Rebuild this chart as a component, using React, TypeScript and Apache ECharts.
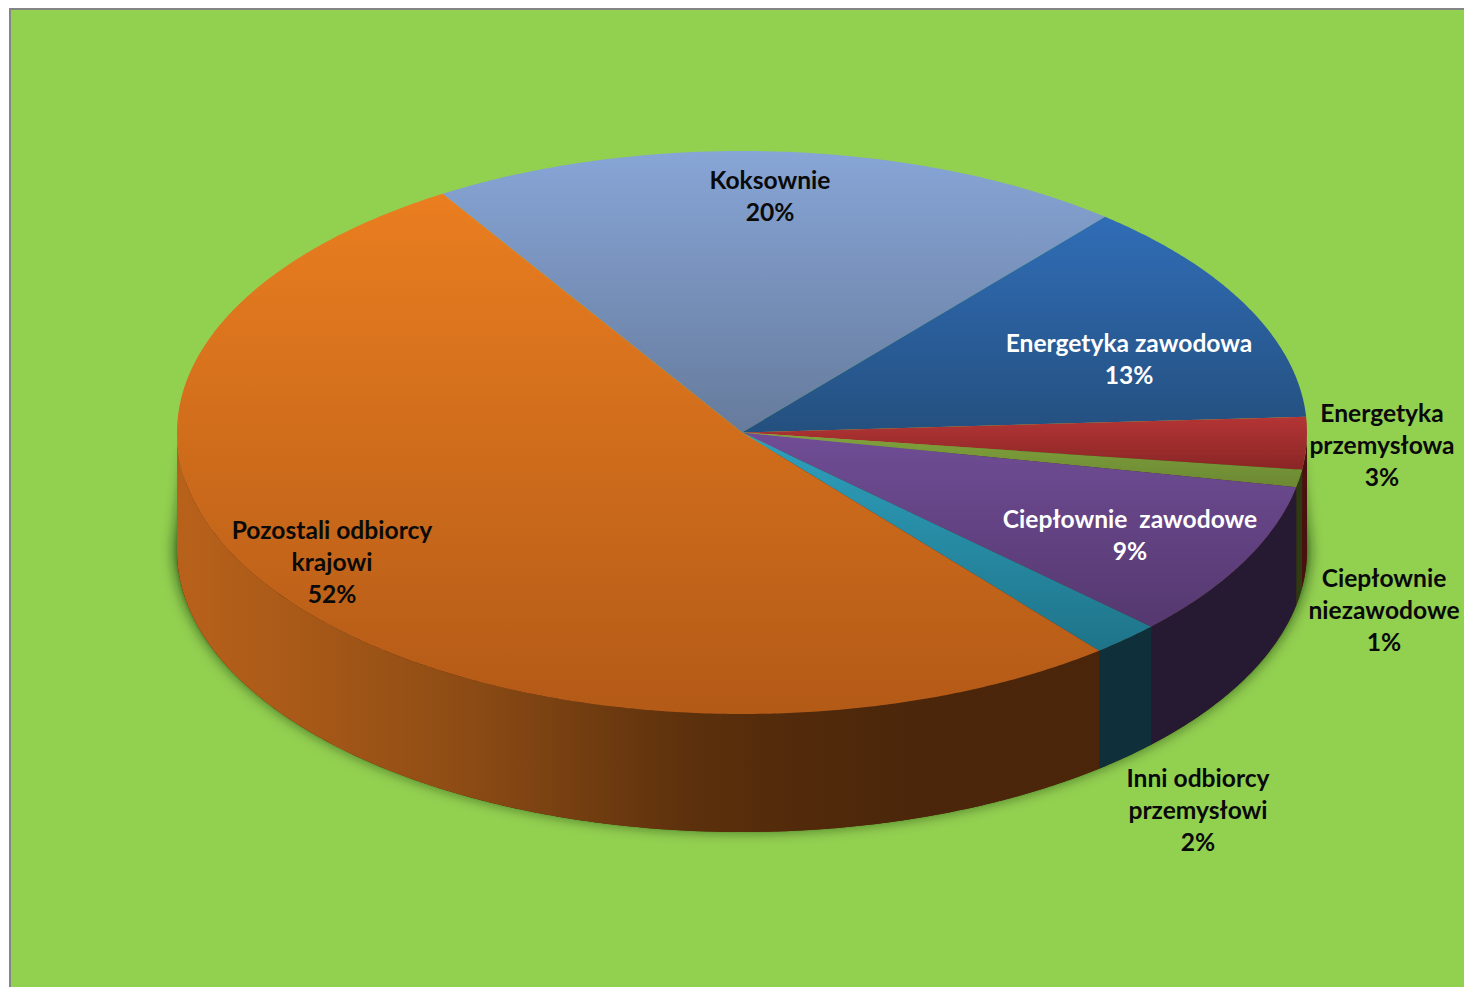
import React, { useEffect, useRef } from "react";
import * as echarts from "echarts";

const categories = [
  "Koksownie",
  "Energetyka zawodowa",
  "Energetyka\nprzemysłowa",
  "Ciepłownie\nniezawodowe",
  "Ciepłownie  zawodowe",
  "Inni odbiorcy\nprzemysłowi",
  "Pozostali odbiorcy\nkrajowi",
];
const shares = [20, 13, 3, 1, 9, 2, 52];

const topColors = [
  ["#87A5D6", "#667B9C"],
  ["#306DB7", "#24507F"],
  ["#B43535", "#8A2525"],
  ["#80A23C", "#6C8833"],
  ["#704D96", "#55386F"],
  ["#2FA0BE", "#1E7489"],
  ["#EA7E20", "#B35A17"],
];
const wallColors = ["#667B9C", "#24507F", "#4A1010", "#2D3A12", "#261A33", "#0F2F3A", "#4A250A"];
const orangeWallStops: [number, string][] = [
  [0, "#B8611B"],
  [0.1, "#AA5A18"],
  [0.26, "#8C4B14"],
  [0.37, "#703C10"],
  [0.46, "#5B300C"],
  [0.55, "#522A0B"],
  [0.66, "#4B260A"],
  [1, "#4A250A"],
];
const labelColors = ["#0A0A0A", "#FFFFFF", "#0A0A0A", "#0A0A0A", "#FFFFFF", "#0A0A0A", "#0A0A0A"];
const labelAnchors = [
  [770, 195],
  [1129, 358],
  [1382, 444],
  [1384, 609],
  [1130, 534],
  [1198, 809],
  [332, 561],
];

const CX = 742;
const CY = 432.5;
const RX = 565;
const RY = 281.5;
const DEPTH = 118;
const START_DEG = -32;

const pt = (deg: number, dy = 0): number[] => {
  const a = (deg * Math.PI) / 180;
  return [CX + RX * Math.sin(a), CY - RY * Math.cos(a) + dy];
};
const arc = (a0: number, a1: number, dy = 0): number[][] => {
  const n = Math.max(2, Math.ceil(Math.abs(a1 - a0) / 0.5));
  const out: number[][] = [];
  for (let i = 0; i <= n; i++) out.push(pt(a0 + ((a1 - a0) * i) / n, dy));
  return out;
};
const total = shares.reduce((s, v) => s + v, 0);
const bounds = (i: number): number[] => {
  const before = shares.slice(0, i).reduce((s, v) => s + v, 0);
  return [START_DEG + (before / total) * 360, START_DEG + ((before + shares[i]) / total) * 360];
};
const vGrad = (c: string[]) =>
  new echarts.graphic.LinearGradient(0, 0, 0, 1, [
    { offset: 0, color: c[0] },
    { offset: 1, color: c[1] },
  ]);

export default function App() {
  const ref = useRef<HTMLDivElement>(null);
  useEffect(() => {
    document.body.style.margin = "0";
    document.body.style.background = "#fff";
    const chart = echarts.init(ref.current!, null, { renderer: "svg" });
    const rows = shares.map((v, i) => ({ value: [v], name: categories[i] }));
    chart.setOption({
      animation: false,
      backgroundColor: "#FFFFFF",
      graphic: [
        { type: "rect", z: -20, silent: true, shape: { x: 9, y: 8, width: 1455, height: 979 }, style: { fill: "#858585" } },
        { type: "rect", z: -19, silent: true, shape: { x: 11, y: 10, width: 1453, height: 977 }, style: { fill: "#92D050" } },
      ],
      series: [
        {
          type: "custom",
          coordinateSystem: "none",
          silent: true,
          z: 2,
          data: [{ value: [total] }],
          renderItem: () => ({
            type: "polygon",
            shape: { points: [pt(282, 80), pt(78, 80), ...arc(90, 270, DEPTH)] },
            style: {
              fill: "#4A250A",
              shadowBlur: 15,
              shadowColor: "rgba(0,30,0,0.95)",
              shadowOffsetX: 0,
              shadowOffsetY: -4,
            },
          }),
        },
        {
          type: "custom",
          coordinateSystem: "none",
          silent: true,
          z: 3,
          data: rows,
          renderItem: (params: any) => {
            const i = params.dataIndex;
            const [a0, a1] = bounds(i);
            const from = Math.max(a0, 90);
            const to = Math.min(a1, 270);
            if (to <= from) return { type: "group", children: [] };
            const isOrange = i === shares.length - 1;
            const fill = isOrange
              ? new echarts.graphic.LinearGradient(
                  CX - RX,
                  0,
                  CX + RX,
                  0,
                  orangeWallStops.map(([offset, color]) => ({ offset, color })),
                  true
                )
              : wallColors[i];
            return {
              type: "polygon",
              shape: { points: [...arc(from, to), ...arc(to, from, DEPTH)] },
              style: { fill },
            };
          },
        },
        {
          type: "custom",
          coordinateSystem: "none",
          silent: true,
          z: 4,
          data: rows,
          renderItem: (params: any) => {
            const i = params.dataIndex;
            const [a0, a1] = bounds(i);
            return {
              type: "polygon",
              shape: { points: [[CX, CY], ...arc(a0, a1)] },
              style: { fill: vGrad(topColors[i]) },
            };
          },
        },
        {
          type: "custom",
          coordinateSystem: "none",
          silent: true,
          z: 5,
          data: rows,
          renderItem: (params: any) => {
            const i = params.dataIndex;
            return {
              type: "text",
              x: labelAnchors[i][0],
              y: labelAnchors[i][1],
              style: {
                text: `${categories[i]}\n${shares[i]}%`,
                fill: labelColors[i],
                font: 'bold 24.6px Lato, "Open Sans", sans-serif',
                lineHeight: 32,
                align: "center",
                verticalAlign: "middle",
              },
            };
          },
        },
      ],
    });
    return () => chart.dispose();
  }, []);
  return <div ref={ref} style={{ position: "absolute", left: 0, top: 0, width: 1464, height: 987 }} />;
}
